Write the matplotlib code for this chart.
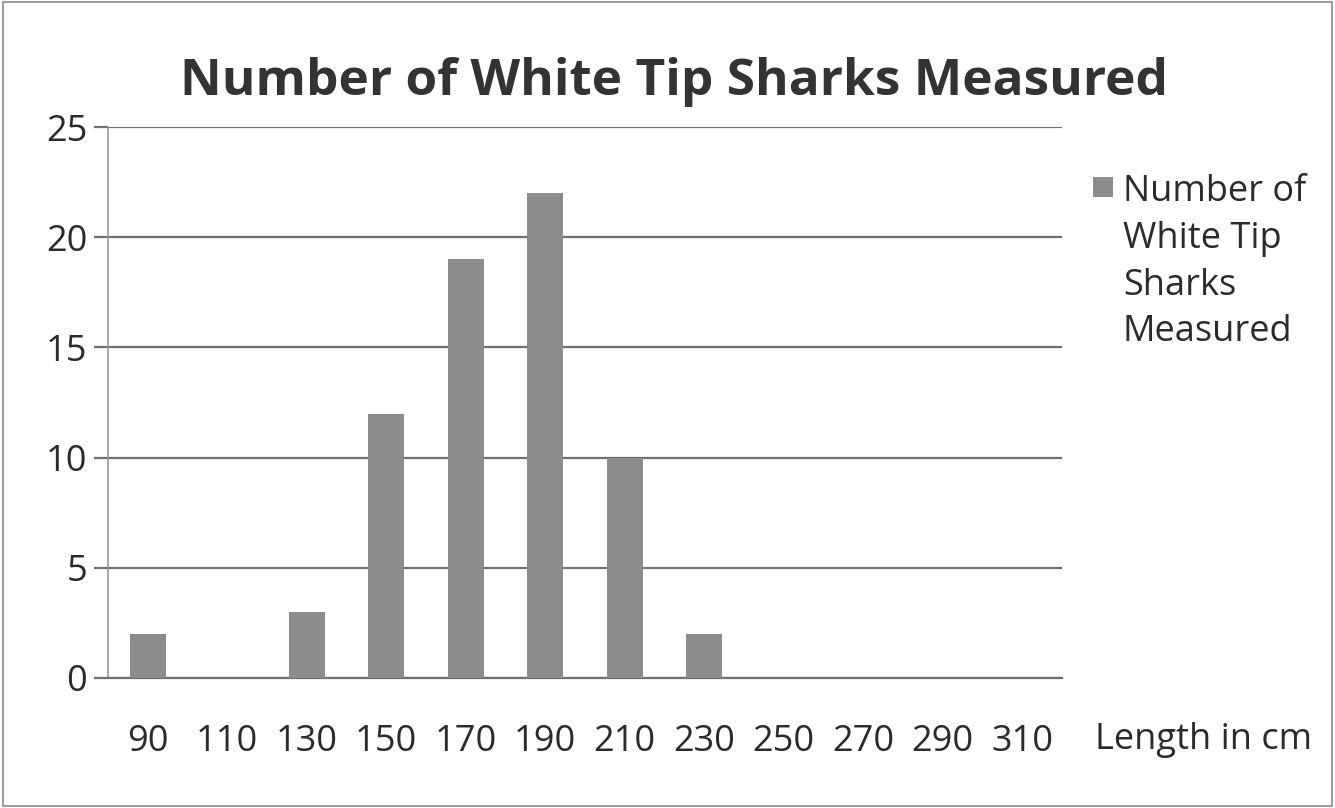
import matplotlib
matplotlib.use("Agg")
import matplotlib.pyplot as plt
from matplotlib.patches import Rectangle

categories = ["90", "110", "130", "150", "170", "190", "210", "230", "250", "270", "290", "310"]
counts = [2, 0, 3, 12, 19, 22, 10, 2, 0, 0, 0, 0]
yticks = [0, 5, 10, 15, 20, 25]
series_label = "Number of\nWhite Tip\nSharks\nMeasured"
title = "Number of White Tip Sharks Measured"
xlabel = "Length in cm"

plt.rcParams['font.family'] = ['Open Sans', 'DejaVu Sans']
text_color = "#2b2b2b"
grid_color = "#707070"
bar_color = "#8c8c8c"
fs = 26

fig = plt.figure(figsize=(13.35, 8.08), dpi=100)
fig.patch.set_facecolor("white")
fig.patches.append(Rectangle((0.002, 0.003), 0.996, 0.994, transform=fig.transFigure,
                             fill=False, edgecolor="#8a8a8a", linewidth=1.2))

ax = fig.add_axes([0.0809, 0.1609, 0.7146, 0.6819])
x = list(range(len(categories)))
ax.bar(x, counts, width=0.45, color=bar_color, edgecolor="none", zorder=3)

ax.set_xlim(-0.5, len(categories) - 0.5)
ax.set_ylim(0, 25)
ax.set_yticks(yticks)
ax.set_yticklabels([str(v) for v in yticks])
ax.set_xticks(x)
ax.set_xticklabels(categories)

ax.yaxis.grid(True, color=grid_color, linewidth=1.6, zorder=0)
ax.set_axisbelow(True)
for s in ["top", "right"]:
    ax.spines[s].set_visible(False)
ax.spines["left"].set_color("#9a9a9a")
ax.spines["left"].set_linewidth(1.2)
ax.spines["bottom"].set_color(grid_color)
ax.spines["bottom"].set_linewidth(1.6)

ax.tick_params(axis="y", length=10, width=1.6, color=grid_color, pad=5,
               labelsize=fs, labelcolor=text_color)
ax.tick_params(axis="x", length=0, pad=33, labelsize=fs, labelcolor=text_color)

# x-axis title, placed at the same height as the category labels
fig.text(1095 / 1335, 1 - 740 / 808, xlabel, ha="left", va="center",
         fontsize=fs, color=text_color)

fig.text(0.505, 1 - 82 / 808, title, ha="center", va="center",
         fontsize=37, fontweight="bold", color="#333333")

# legend (handle aligned with first line, as in the reference)
fig.patches.append(Rectangle((1093 / 1335, 1 - 197 / 808), 20 / 1335, 20 / 808,
                             transform=fig.transFigure, facecolor=bar_color,
                             edgecolor="none"))
fig.text(1123 / 1335, 1 - 174 / 808, series_label, ha="left", va="top",
         fontsize=fs, color=text_color, linespacing=1.4)

fig.savefig("out.png", dpi=100, facecolor="white")
